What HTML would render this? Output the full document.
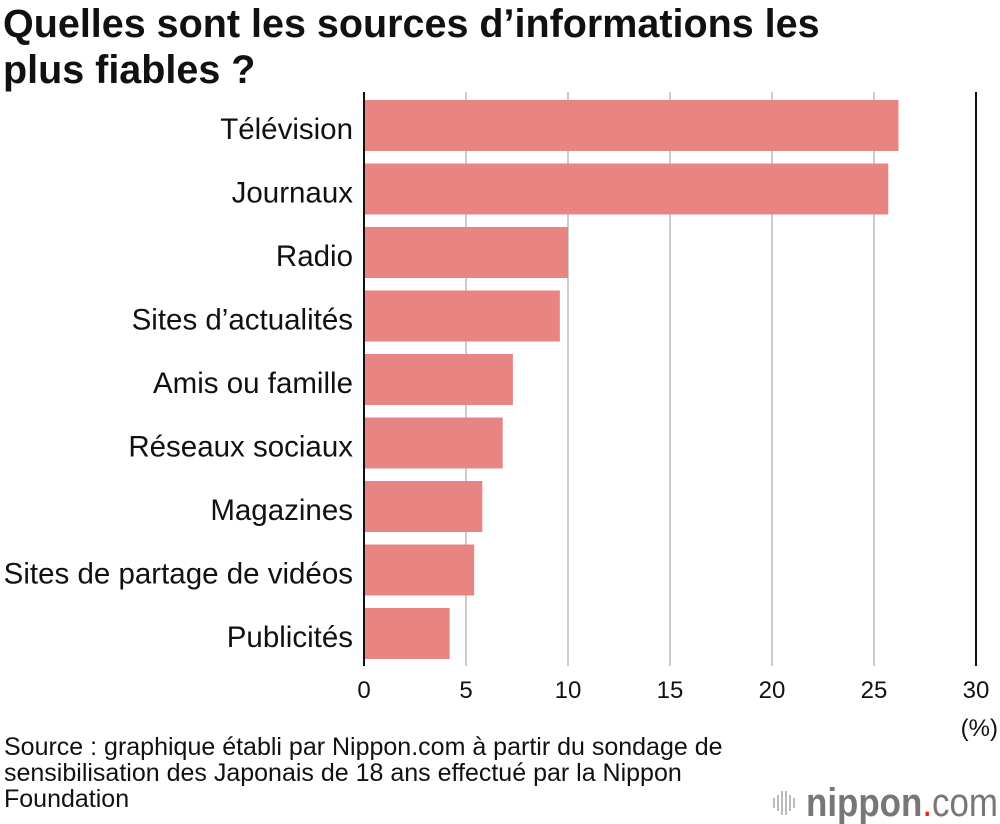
<!DOCTYPE html>
<html><head><meta charset="utf-8"><style>
body{margin:0;width:1000px;height:824px;background:#fff;font-family:"Liberation Sans",Arial,sans-serif;overflow:hidden}
#t{position:absolute;left:3px;top:1px;font-size:39.5px;font-weight:bold;line-height:46px;color:#111;letter-spacing:0}
#src{position:absolute;left:4px;top:734px;font-size:25px;line-height:26px;color:#111;letter-spacing:0;white-space:nowrap}
svg{position:absolute;left:0;top:0}
</style></head><body>
<div id="t">Quelles sont les sources d’informations les<br>plus fiables ?</div>
<svg id="c" width="1000" height="824"></svg>
<div id="src">Source : graphique établi par Nippon.com à partir du sondage de<br>sensibilisation des Japonais de 18 ans effectué par la Nippon<br>Foundation</div>
<script>
const categories=["Télévision","Journaux","Radio","Sites d’actualités","Amis ou famille","Réseaux sociaux","Magazines","Sites de partage de vidéos","Publicités"];
const values=[26.2,25.7,10.0,9.6,7.3,6.8,5.8,5.4,4.2];
const ticks=[0,5,10,15,20,25,30];
const NS="http://www.w3.org/2000/svg";
const svg=document.getElementById('c');
const x0=364,x1=976,xmax=30;
const x=v=>x0+v/xmax*(x1-x0);
const y=i=>100+i*63.5;
function mk(t,a){const e=document.createElementNS(NS,t);for(const k in a)e.setAttribute(k,a[k]);svg.appendChild(e);return e;}
ticks.forEach(v=>{
 const l=mk('line',{x1:x(v),x2:x(v),y1:92,y2:666,stroke:v===0||v===30?'#111':'#ccc','stroke-width':2});
 
 
 const t=mk('text',{x:x(v),y:698,'text-anchor':'middle','font-size':24,fill:'#111'});t.textContent=v;
 
 
});
const pu=mk('text',{x:998,y:736,'text-anchor':'end','font-size':24,fill:'#111'});pu.textContent='(%)';


categories.forEach((c,i)=>{
 const r=mk('rect',{x:x0+1,y:y(i),width:x(values[i])-x0-1,height:51,fill:'#e88583'});
 
 
 const t=mk('text',{x:353,y:y(i)+39,'text-anchor':'end','font-size':29.5,fill:'#111'});t.textContent=c;
 
 
});
const g=mk('g',{});


[0,1,2,3,4,5].forEach(k=>{const h=[10,16,24,24,16,10][k];const e=document.createElementNS(NS,'rect');e.setAttribute('x',773+k*4);e.setAttribute('y',803-h/2);e.setAttribute('width',2);e.setAttribute('height',h);e.setAttribute('fill','#bbb');g.appendChild(e);});
const lt=document.createElementNS(NS,'text');lt.setAttribute('x',806);lt.setAttribute('y',816);lt.setAttribute('font-size',40);lt.setAttribute('fill','#777');lt.setAttribute('textLength',192);lt.setAttribute('lengthAdjust','spacingAndGlyphs');
lt.innerHTML='<tspan font-weight="bold">nippon</tspan><tspan fill="#e22">.</tspan><tspan>com</tspan>';g.appendChild(lt);
</script>
</body></html>
